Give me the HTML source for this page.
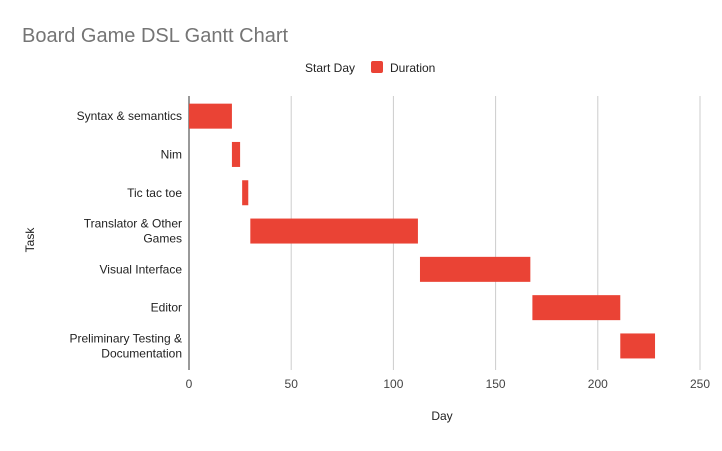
<!DOCTYPE html>
<html><head><meta charset="utf-8"><style>
body{margin:0;background:#fff;font-family:"Liberation Sans",Arial,sans-serif}
svg text{font-family:"Liberation Sans",Arial,sans-serif}
</style></head><body>
<svg id="c" width="722" height="446" xmlns="http://www.w3.org/2000/svg">
<rect width="722" height="446" fill="#fff"/>
<text x="22" y="42" font-size="20" fill="#757575">Board Game DSL Gantt Chart</text>
<g>
<text x="305" y="72" font-size="12" fill="#222">Start Day</text>
<rect x="371" y="61" width="12" height="12" rx="2" fill="#ea4335"/>
<text x="390" y="72" font-size="12" fill="#222">Duration</text>
</g>
<g id="grid"></g><g id="bars"></g><g id="labels"></g>
<text x="442" y="420" font-size="12" fill="#222" text-anchor="middle">Day</text>
<text transform="translate(34,240) rotate(-90)" font-size="12" fill="#222" text-anchor="middle">Task</text>
</svg>
<script>
const tasks=[["Syntax & semantics"],["Nim"],["Tic tac toe"],["Translator & Other","Games"],["Visual Interface"],["Editor"],["Preliminary Testing &","Documentation"]];
const starts=[0,21,26,30,113,168,211];
const durations=[21,4,3,82,54,43,17];
const ticks=[0,50,100,150,200,250];
const NS="http://www.w3.org/2000/svg";
const x0=189,x1=700,plotTop=96,plotBottom=370,maxV=250;
const xs=v=>x0+(v/maxV)*(x1-x0);
const rowH=38.3;
const ys=i=>plotTop+1+rowH*(i+0.5);
function mk(t,a,p){const e=document.createElementNS(NS,t);for(const k in a)e.setAttribute(k,a[k]);p.appendChild(e);return e;}
const g=document.getElementById('grid'),b=document.getElementById('bars'),l=document.getElementById('labels');
ticks.forEach(t=>{
 const ln=mk('line',{x1:xs(t),x2:xs(t),y1:plotTop,y2:plotBottom,stroke:t===0?'#333':'#ccc','stroke-width':1},g);
 
 
 const tx=mk('text',{x:xs(t),y:plotBottom+18,'font-size':12,fill:'#444','text-anchor':'middle'},l);
 tx.textContent=t;
 
 
});
tasks.forEach((lines,i)=>{
 const r=mk('rect',{x:xs(starts[i]),y:ys(i)-12.5,width:xs(starts[i]+durations[i])-xs(starts[i]),height:25,fill:'#ea4335'},b);
 
 
 const t=mk('text',{x:182,'font-size':12,fill:'#222','text-anchor':'end'},l);
 
 
 const y0=ys(i)+4-(lines.length-1)*7.5;
 lines.forEach((s,j)=>{const sp=mk('tspan',{x:182,y:y0+j*15},t);sp.textContent=s;});
});
</script>
</body></html>
